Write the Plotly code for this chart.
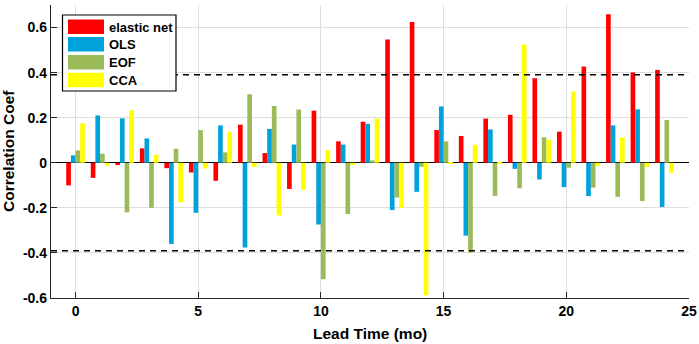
import plotly.graph_objects as go

lead = list(range(25))
series_names = ["elastic net", "OLS", "EOF", "CCA"]
colors = ["#FF0000", "#00A2DB", "#9BBB59", "#FFFF00"]

elastic_net = [-0.10, -0.067, -0.01, 0.064, -0.024, -0.043, -0.08, 0.169, 0.043, -0.116,
               0.231, 0.095, 0.182, 0.547, 0.625, 0.145, 0.119, 0.196, 0.213, 0.375,
               0.138, 0.427, 0.659, 0.401, 0.412]
ols = [0.033, 0.21, 0.197, 0.108, -0.36, -0.222, 0.166, -0.376, 0.15, 0.081,
       -0.274, 0.081, 0.173, -0.21, -0.129, 0.25, -0.323, 0.148, -0.027, -0.074,
       -0.108, -0.148, 0.166, 0.237, -0.196]
eof = [0.055, 0.04, -0.22, -0.20, 0.062, 0.145, 0.046, 0.304, 0.252, 0.236,
       -0.517, -0.227, 0.01, -0.154, -0.018, 0.095, -0.398, -0.147, -0.113, 0.113,
       -0.022, -0.11, -0.151, -0.17, 0.19]
cca = [0.175, -0.013, 0.233, 0.036, -0.175, -0.025, 0.138, -0.019, -0.234, -0.12,
       0.056, -0.01, 0.196, -0.20, -0.588, -0.005, 0.079, -0.003, 0.524, 0.102,
       0.316, -0.015, 0.111, -0.019, -0.044]
all_series = [elastic_net, ols, eof, cca]

sig_level = 0.39
xtick_vals = [0, 5, 10, 15, 20, 25]
xtick_text = ["<b>%d</b>" % v for v in xtick_vals]
ytick_vals = [-0.6, -0.4, -0.2, 0, 0.2, 0.4, 0.6]
ytick_text = ["<b>-0.6</b>", "<b>-0.4</b>", "<b>-0.2</b>", "<b>0</b>", "<b>0.2</b>", "<b>0.4</b>", "<b>0.6</b>"]

fig = go.Figure()
for name, vals, col in zip(series_names, all_series, colors):
    fig.add_trace(go.Bar(x=lead, y=vals, name=name, marker=dict(color=col, line=dict(width=0)),
                         showlegend=False))

font_family = "Liberation Sans, Arial, sans-serif"
axis_col = "#262626"

L, R, T, B = 51, 10, 5, 46
W, H = 699, 344
fig.update_layout(
    width=W, height=H,
    margin=dict(l=L, r=R, t=T, b=B, autoexpand=False),
    paper_bgcolor="white", plot_bgcolor="white",
    barmode="group", bargap=0.24, bargroupgap=0,
    font=dict(family=font_family, size=14, color="black"),
)
fig.update_xaxes(
    range=[-1, 25], tickvals=xtick_vals, ticktext=xtick_text, ticks="inside", ticklen=6,
    tickcolor=axis_col, automargin=False,
    showgrid=True, gridcolor="#dedede", gridwidth=1,
    showline=True, linecolor=axis_col, linewidth=1.3, mirror=False, zeroline=False,
    tickfont=dict(size=14, family=font_family),
)
fig.update_yaxes(
    range=[-0.6, 0.7], tickvals=ytick_vals, ticktext=ytick_text, ticks="inside", ticklen=6,
    tickcolor=axis_col, automargin=False,
    showgrid=True, gridcolor="#dedede", gridwidth=1,
    showline=True, linecolor=axis_col, linewidth=1.3, mirror=False,
    zeroline=True, zerolinecolor="black", zerolinewidth=1,
    tickfont=dict(size=14, family=font_family),
)

for lvl in (sig_level, -sig_level):
    fig.add_shape(type="line", xref="paper", yref="y", x0=0, x1=1, y0=lvl, y1=lvl,
                  line=dict(color="black", width=1.5, dash="6px,5px"))

pw = W - L - R
ph = H - T - B
def px(xp):
    return (xp - L) / pw
def py(yp):
    return 1 - (yp - T) / ph

# Axis titles
fig.add_annotation(xref="paper", yref="paper", x=px(370), y=py(333), text="<b>Lead Time (mo)</b>",
                   showarrow=False, xanchor="center", yanchor="middle",
                   font=dict(size=15.5, family=font_family, color="black"))
fig.add_annotation(xref="paper", yref="paper", x=px(8), y=py(151), text="<b>Correlation Coef</b>",
                   showarrow=False, xanchor="center", yanchor="middle", textangle=-90,
                   font=dict(size=15.5, family=font_family, color="black"))

# Manual legend (MATLAB-style wide swatches)
fig.add_shape(type="rect", xref="paper", yref="paper", x0=px(62.5), x1=px(176),
              y0=py(91), y1=py(15), line=dict(color="black", width=1.2), fillcolor="white")
row_tops = [19.5, 37, 55, 72.7]
for name, col, top in zip(series_names, colors, row_tops):
    fig.add_shape(type="rect", xref="paper", yref="paper", x0=px(68), x1=px(104),
                  y0=py(top + 14.5), y1=py(top), line=dict(width=0), fillcolor=col)
    fig.add_annotation(xref="paper", yref="paper", x=px(107), y=py(top + 7.5),
                       text="<b>%s</b>" % name, showarrow=False, xanchor="left", yanchor="middle",
                       font=dict(size=13, family=font_family, color="black"))

fig.write_html("out.html", config={"displayModeBar": False},
               post_script="document.body.style.margin='0';document.body.style.overflow='hidden';")
